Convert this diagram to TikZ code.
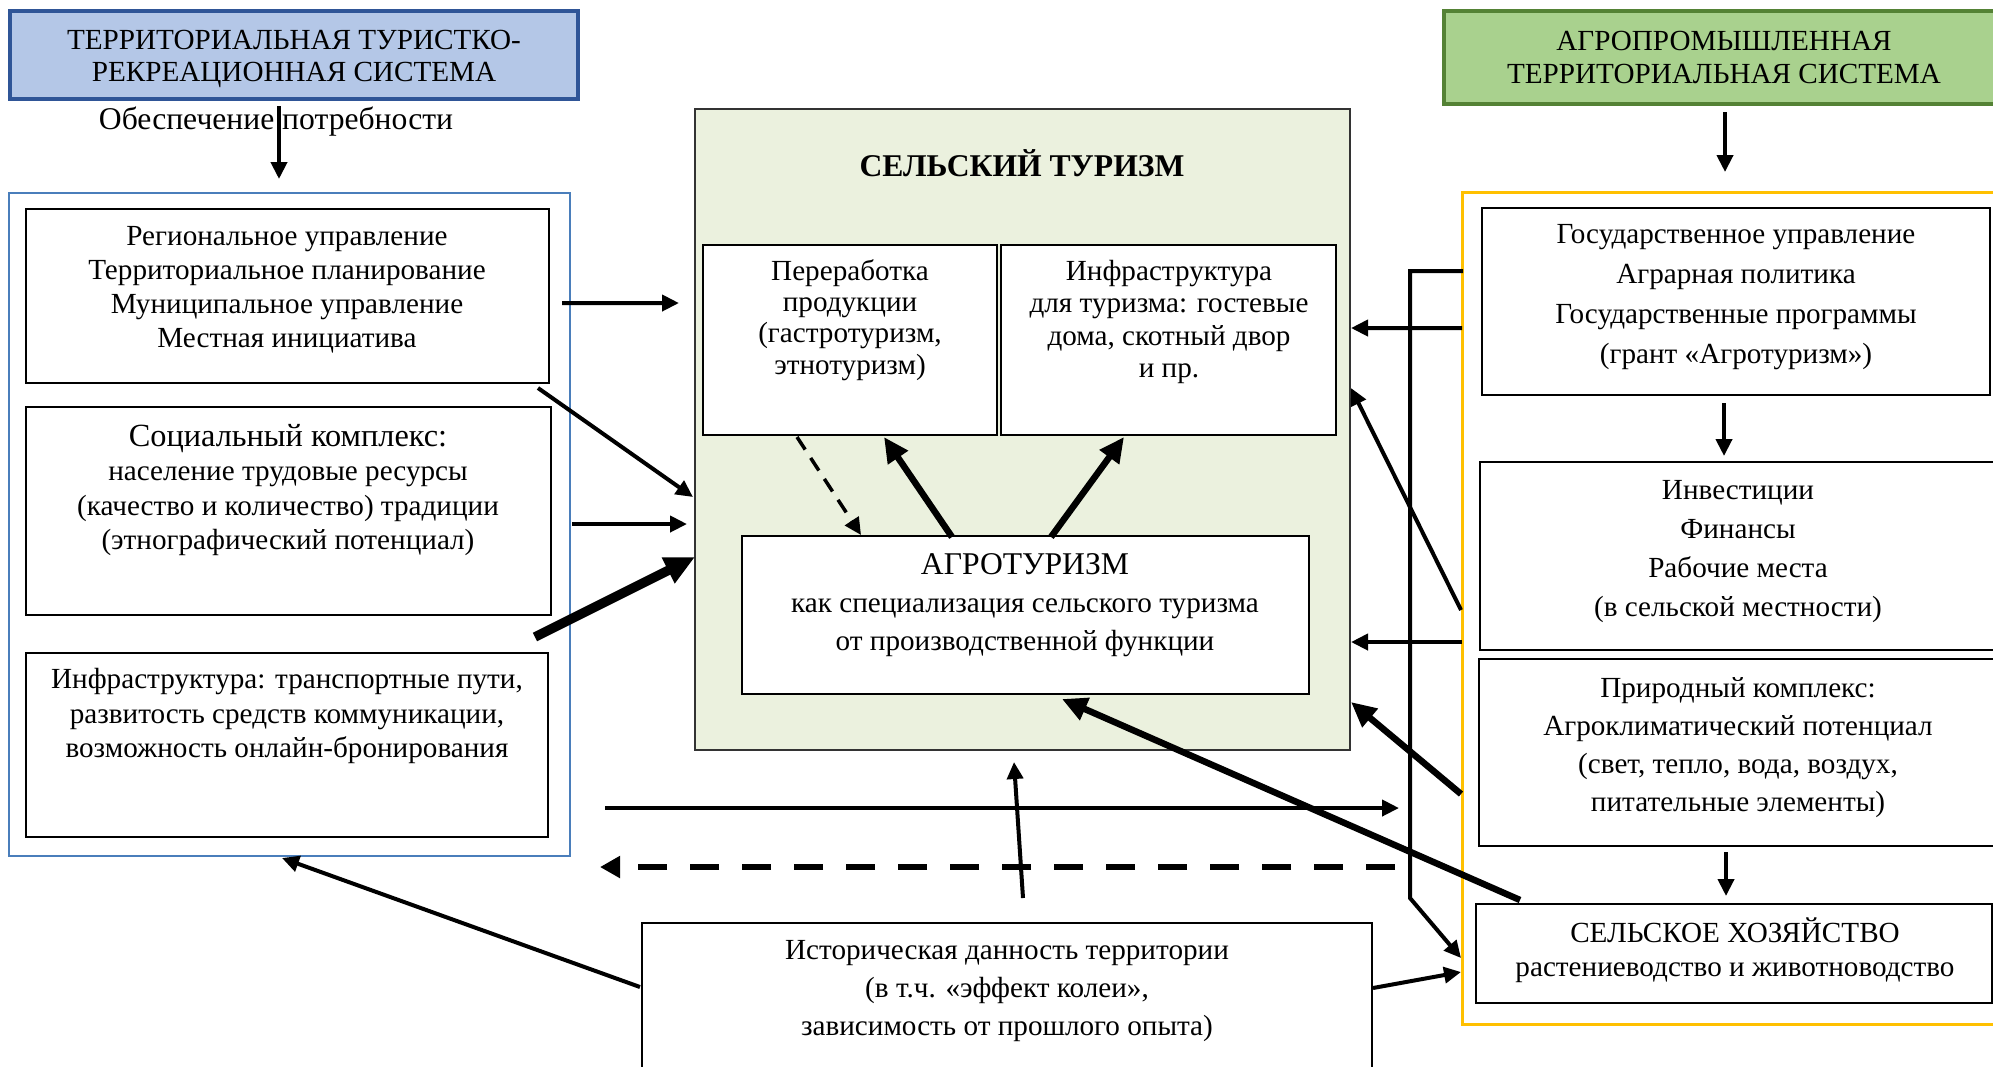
\documentclass[tikz,border=0pt]{standalone}
\usepackage{fontspec}
\setmainfont{Liberation Serif}
\usetikzlibrary{positioning,calc,fit,arrows.meta}

\definecolor{trsblue}{HTML}{B4C7E7}
\definecolor{trsline}{HTML}{2F5597}
\definecolor{frameblue}{HTML}{4A7EBB}
\definecolor{ruralfill}{HTML}{EBF1DE}
\definecolor{aptsgreen}{HTML}{A9D18E}
\definecolor{aptsline}{HTML}{548235}
\definecolor{agrorange}{HTML}{FFC000}

\tikzset{
  box/.style={draw,line width=0.6pt,inner sep=0pt,outer sep=0pt},
  txt/.style={align=center,inner sep=0pt,font=\fontsize{8.3}{#1}\selectfont},
  txt/.default=9.7,
  arr/.style={line width=0.4mm,-{Triangle[length=1.7mm,width=1.6mm]}},
  arrb/.style={line width=0.65mm,-{Triangle[length=2.5mm,width=2.3mm]}},
  arrbb/.style={line width=0.95mm,-{Triangle[length=3mm,width=2.7mm]}},
  dasharr/.style={line width=0.35mm,dash pattern=on 1.5mm off 1mm,
    -{Triangle[length=1.7mm,width=1.6mm]}},
}

\begin{document}
\begin{tikzpicture}[x=0.1mm,y=-0.1mm]
\useasboundingbox (0,0) rectangle (1993,1066);
%\draw[help lines,step=100] (0,0) grid (1993,1066);

% left side: tourist-recreational system
\node[box,draw=trsline,line width=0.9pt,fill=trsblue,fit={(10,11) (578,99)}] (trs) {};
\node[txt=9.3] (trs-t) at (294,59) {ТЕРРИТОРИАЛЬНАЯ ТУРИСТКО-\\РЕКРЕАЦИОННАЯ СИСТЕМА};
\node[txt,font=\fontsize{9}{11}\selectfont] (need) at (276,122) {Обеспечение потребности};

\node[box,draw=frameblue,line width=0.5pt,fit={(9,193) (570,856)}] (left) {};
\node[box,fit={(26,209) (549,383)}] (reg) {};
\node[txt=9.7] (reg-t) at (287,290)
  {Региональное управление\\Территориальное планирование\\Муниципальное управление\\Местная инициатива};
\node[box,fit={(26,407) (551,615)}] (soc) {};
\node[txt=9.7] (soc-t) at (288,490)
  {{\fontsize{9.2}{11.2}\selectfont Социальный комплекс:}\\население трудовые ресурсы\\(качество и количество) традиции\\(этнографический потенциал)};
\node[box,fit={(26,653) (548,837)}] (inf) {};
\node[txt=9.8] (inf-t) at (287,716)
  {Инфраструктура: транспортные пути,\\развитость средств коммуникации,\\возможность онлайн-бронирования};

% centre: rural tourism
\node[box,draw=black!80,fill=ruralfill,fit={(695,109) (1350,750)}] (rural) {};
\node[txt,font=\bfseries\fontsize{9}{11}\selectfont] (rural-t) at (1022,163) {СЕЛЬСКИЙ ТУРИЗМ};
\node[box,fill=white,fit={(703,245) (997,435)}] (proc) {};
\node[txt=8.9] (proc-t) at (850,320) {Переработка\\продукции\\(гастротуризм,\\этнотуризм)};
\node[box,fill=white,fit={(1001,245) (1336,435)}] (host) {};
\node[txt=9.2] (host-t) at (1169,322) {Инфраструктура\\для туризма: гостевые\\дома, скотный двор\\и пр.};
\node[box,fill=white,fit={(742,536) (1309,694)}] (agro) {};
\node[txt=10.8] (agro-t) at (1025,605)
  {{\fontsize{9}{11}\selectfont АГРОТУРИЗМ}\\как специализация сельского туризма\\от производственной функции};

% right side: agro-industrial system
\node[box,draw=aptsline,line width=0.9pt,fill=aptsgreen,fit={(1444,11) (2004,104)}] (apts) {};
\node[txt=9.4] (apts-t) at (1724,57) {АГРОПРОМЫШЛЕННАЯ\\ТЕРРИТОРИАЛЬНАЯ СИСТЕМА};

\node[box,draw=agrorange,line width=0.85pt,fit={(1462,192) (2010,1024)}] (agr) {};
\node[box,fit={(1482,208) (1990,395)}] (gov) {};
\node[txt=11.4] (gov-t) at (1736,297)
  {Государственное управление\\Аграрная политика\\Государственные программы\\(грант «Агротуризм»)};
\node[box,fit={(1480,462) (2000,650)}] (inv) {};
\node[txt=11.1] (inv-t) at (1738,552) {Инвестиции\\Финансы\\Рабочие места\\(в сельской местности)};
\node[box,fit={(1479,659) (2000,846)}] (nat) {};
\node[txt=10.8] (nat-t) at (1738,748)
  {Природный комплекс:\\Агроклиматический потенциал\\(свет, тепло, вода, воздух,\\питательные элементы)};
\node[box,fit={(1476,904) (1992,1003)}] (agri) {};
\node[txt=9.8] (agri-t) at (1735,950) {СЕЛЬСКОЕ ХОЗЯЙСТВО\\растениеводство и животноводство};

% bottom: history
\node[box,fit={(642,923) (1372,1090)}] (hist) {};
\node[txt=10.9] (hist-t) at (1007,991)
  {Историческая данность территории\\(в т.ч. «эффект колеи»,\\зависимость от прошлого опыта)};

% vertical arrows
\draw[arr] ($(trs.south)+(-15,7)$) -- ($(left.north)+(-10.5,-14)$);
\draw[arr] ($(apts.south)+(1,8)$) -- ($(agr.north)+(-11,-20)$);
\draw[arr] ($(gov.south)+(-12,8)$) -- ($(inv.north)+(-16,-6)$);
\draw[arr] ($(nat.south)+(-13.5,6)$) -- ($(agri.north)+(-8,-8)$);

% left system -> rural tourism
\draw[arr] ($(reg.east)+(13,7)$) -- ($(rural.west)+(-16,-126.5)$);
\draw[arr] ($(reg.south east)+(-11,5)$) -- ($(rural.west)+(-2,67.5)$);
\draw[arr] ($(soc.east)+(21,13)$) -- ($(rural.west)+(-8,94.5)$);
\draw[arrbb] ($(inf.north east)+(-13,-16)$) -- ($(rural.west)+(0,127.5)$);

% exchange between the two systems
\draw[arr] ($(left.south east)+(35,-48)$) -- ($(agr.south west)+(-63,-216)$);
\draw[line width=0.65mm,dash pattern=on 2.9mm off 2.3mm,-{Triangle[length=2mm,width=2.1mm]}]
  ($(agr.south west)+(-67,-157)$) -- ($(left.south east)+(30,11)$);

% history
\draw[arr] ($(hist.north west)+(-2,64)$) -- ($(left.south)+(-7.5,2)$);
\draw[arr] ($(hist.north)+(16,-25)$) -- ($(rural.south)+(-8.5,12)$);
\draw[arr] ($(hist.north east)+(1,65)$) -- ($(agri.west)+(-15,18.5)$);

% inside rural tourism
\draw[dasharr] ($(proc.south)+(-53,2)$) -- ($(agro.north west)+(119,-1)$);
\draw[arrb] ($(agro.north west)+(210,1)$) -- ($(proc.south)+(34,2)$);
\draw[arrb] ($(agro.north west)+(309,1)$) -- ($(host.south)+(-44.5,2)$);

% right system -> rural tourism
\draw[arrb] ($(agri.north west)+(44,-4)$) -- ($(agro.south)+(36.5,5)$);
\draw[arrb] ($(nat.west)+(-18,41.5)$) -- ($(rural.south east)+(1,-48)$);
\draw[arr] ($(inv.south west)+(-18,-8)$) -- ($(rural.east)+(1,212.5)$);
\draw[arr] ($(inv.south west)+(-19,-40)$) -- ($(rural.east)+(1,-41.5)$);
\draw[arr] ($(gov.west)+(-20,26.5)$) -- ($(rural.east)+(1,-101.5)$);
\draw[arr] ($(gov.west)+(-19,-30.5)$) -| ($(agri.west)+(-66,-55.5)$)
  -- ($(agri.west)+(-15,4.5)$);
\end{tikzpicture}
\end{document}
